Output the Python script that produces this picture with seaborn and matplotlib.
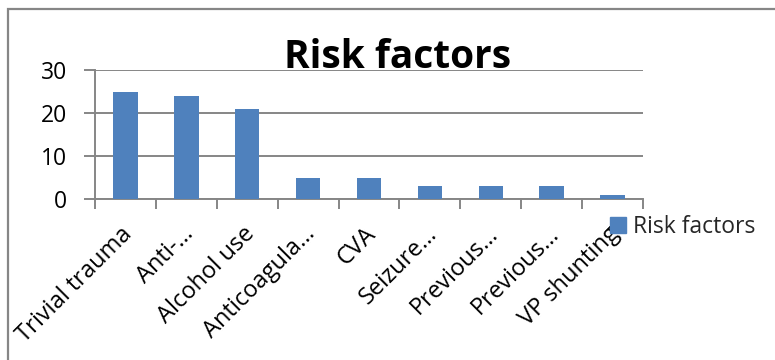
import matplotlib
matplotlib.use("Agg")
import matplotlib.pyplot as plt
import seaborn as sns
import pandas as pd
from matplotlib.lines import Line2D

categories = ["Trivial trauma", "Anti-…", "Alcohol use", "Anticoagula…", "CVA",
              "Seizure…", "Previous…", "Previous…", "VP shunting"]
values = [25, 24, 21, 5, 5, 3, 3, 3, 1]
yticks = [0, 10, 20, 30]
series_name = "Risk factors"
title = "Risk factors"

BAR = "#4f81bd"
GRID = "#868686"
FS = 16.5

sns.set_theme(style="white")
plt.rcParams["font.family"] = ["Open Sans", "DejaVu Sans"]

df = pd.DataFrame({"cat": range(len(categories)), "val": values})

fig = plt.figure(figsize=(7.75, 3.6), dpi=100)
W, H = 775, 360
ax = fig.add_axes([95 / W, 1 - 199 / H, (643 - 95) / W, (199 - 70) / H])

sns.barplot(data=df, x="cat", y="val", color=BAR, width=0.4, ax=ax,
            saturation=1, zorder=3, edgecolor="none")

ax.set_ylim(0, 30)
ax.set_xlim(-0.5, len(categories) - 0.5)
ax.set_yticks(yticks)
ax.set_yticklabels([str(t) for t in yticks], fontsize=FS, color="black")
ax.yaxis.grid(True, color=GRID, linewidth=1.4, zorder=0)
ax.set_axisbelow(True)

# category boundary ticks below the axis
ax.set_xticks([i - 0.5 for i in range(len(categories) + 1)])
ax.set_xticklabels([])
ax.tick_params(axis="x", direction="out", length=7,
               width=1.4, color=GRID, bottom=True)
ax.tick_params(axis="y", direction="out", length=8, width=1.4, color=GRID,
               left=True, pad=12)

for i, lab in enumerate(categories):
    ax.text(i - 0.08, -5.4, lab, rotation=45, ha="right", va="top",
            rotation_mode="anchor", fontsize=17, color="black",
            transform=ax.transData, clip_on=False)

for s in ["top", "right"]:
    ax.spines[s].set_visible(False)
for s in ["left", "bottom"]:
    ax.spines[s].set_color(GRID)
    ax.spines[s].set_linewidth(1.4)

ax.set_xlabel("")
ax.set_ylabel("")

fig.text(398 / W, 1 - 58 / H, title, ha="center", va="center",
         fontsize=28, fontweight="bold", color="black", zorder=10)

handle = Line2D([], [], marker="s", linestyle="none", markersize=11,
                markerfacecolor=BAR, markeredgecolor=BAR)
fig.legend([handle], [series_name], loc="center left",
           bbox_to_anchor=(607 / W, 1 - 227 / H), frameon=False,
           fontsize=FS, handlelength=1.0, handletextpad=0.15,
           borderpad=0, borderaxespad=0)

# outer chart border
border = plt.Rectangle((8 / W, -0.5), 1.5, 1.5 - 9 / H,
                       transform=fig.transFigure, fill=False,
                       edgecolor=GRID, linewidth=1.6)
fig.patches.append(border)

fig.savefig("out.png", dpi=100)
